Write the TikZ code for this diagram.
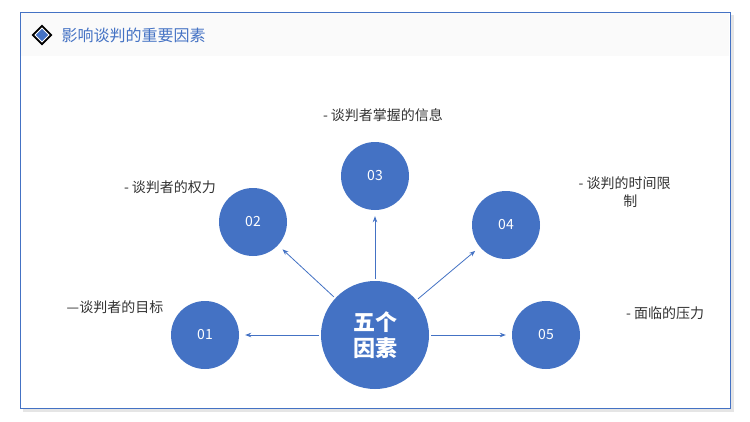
\documentclass[tikz,border=0pt]{standalone}
\usepackage{fontspec}
\setmainfont{Noto Sans CJK SC}
\usetikzlibrary{arrows.meta}
\definecolor{hblue}{HTML}{4472C4}
\definecolor{htext}{HTML}{333333}
\tikzset{
  factor/.style={circle, fill=hblue, text=white, minimum size=68pt, inner sep=0pt, font=\fontsize{14}{14}\selectfont},
  hub/.style={circle, fill=hblue, text=white, minimum size=108pt, inner sep=0pt, align=center, font=\fontsize{22}{26}\selectfont\bfseries},
  spoke/.style={draw=hblue, thick, -{Stealth[length=6pt]}, shorten >=6pt, shorten <=2pt},
  note/.style={text=htext, font=\fontsize{14}{18}\selectfont, align=center}
}
\begin{document}
\begin{tikzpicture}[x=1pt, y=-1pt]
    \useasboundingbox (0,0) rectangle (750,421);
    \fill[white] (0,0) rectangle (750,421);
    \fill[black!10] (23,15) rectangle (734,412);
    \filldraw[draw=hblue, fill=white] (20,12) rectangle (730,408);
    \fill[black!2] (21,13) rectangle (729,56);
    % title icon
    \filldraw[black, fill=black] (42,25) -- (52,35) -- (42,45) -- (32,35) -- cycle;
    \filldraw[fill=hblue, draw=white, thick] (42,28) -- (49,35) -- (42,42) -- (35,35) -- cycle;
    \node[anchor=west, text=hblue, font=\fontsize{16}{16}\selectfont] (title) at (58,35) {影响谈判的重要因素};

    \node[hub] (hub) at (375,335) {五个\\因素};
    \node[factor] (f1) at (205,335) {01};
    \node[factor] (f2) at (253,222) {02};
    \node[factor] (f3) at (375,176) {03};
    \node[factor] (f4) at (506,225) {04};
    \node[factor] (f5) at (546,335) {05};
    \foreach \f in {f1,f2,f3,f4,f5}
        \draw[spoke] (hub) -- (\f);

    \node[note] (n1) at (115,307) {—谈判者的目标};
    \node[note] (n2) at (170,187) {- 谈判者的权力};
    \node[note] (n3) at (383,115) {- 谈判者掌握的信息};
    \node[note, align=left, anchor=north west] (n4) at (575,173) {- 谈判的时间限\\\hspace{3.2em}制};
    \node[note] (n5) at (665,313) {- 面临的压力};
\end{tikzpicture}
\end{document}
